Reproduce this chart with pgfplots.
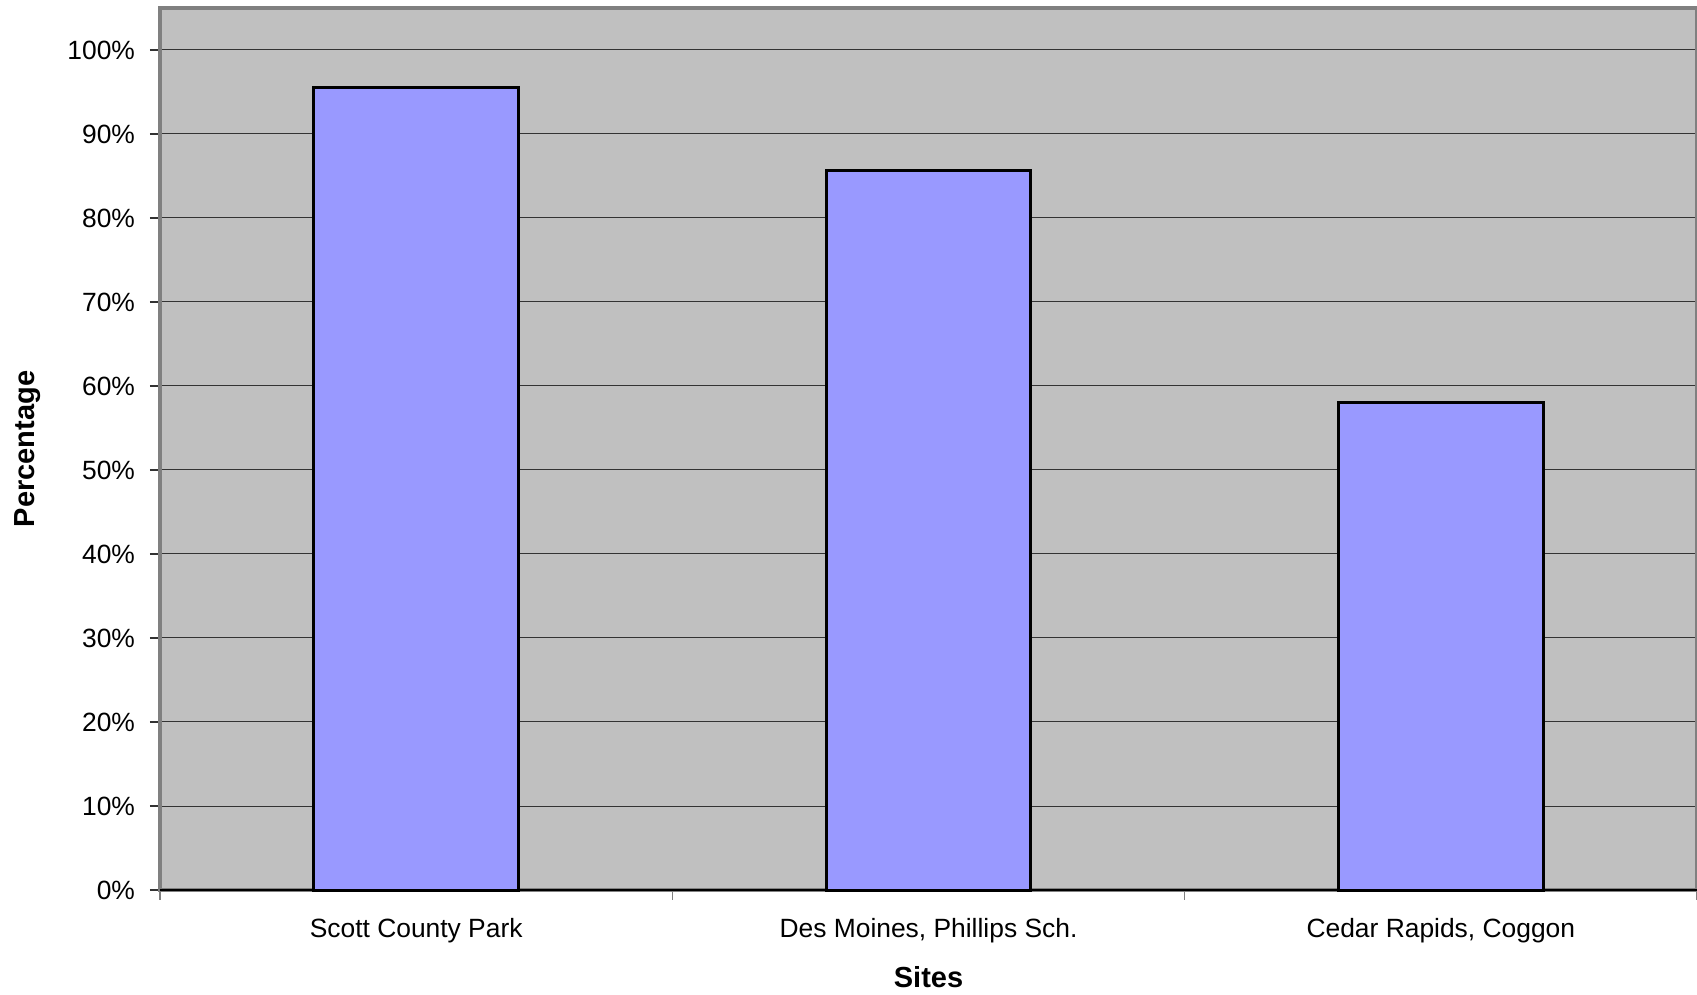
\documentclass[border=0pt]{standalone}
\usepackage{fontspec}
\setmainfont{Liberation Sans}
\usepackage{pgfplots}
\pgfplotsset{compat=1.18}
\definecolor{barfill}{RGB}{153,153,255}
\definecolor{plotbg}{RGB}{192,192,192}
\definecolor{framegray}{RGB}{128,128,128}
\begin{document}
\begin{tikzpicture}
\begin{axis}[
  at={(0,0)}, anchor=south west,
  scale only axis,
  width=768.5pt, height=441pt,
  xmin=-0.5, xmax=2.5,
  ymin=0, ymax=105,
  axis background/.style={fill=plotbg},
  axis line style={draw=framegray, line width=1.6pt},
  ybar, bar width=0.4,
  xtick={0,1,2},
  xticklabels={Scott County Park, {Des Moines, Phillips Sch.}, {Cedar Rapids, Coggon}},
  xtick style={draw=none},
  minor xtick={-0.5,0.5,1.5,2.5},
  minor x tick style={draw=framegray, line width=0.6pt},
  minor tick length=5pt,
  xtick pos=bottom, ytick pos=left,
  ytick={0,10,...,100},
  yticklabel={\pgfmathprintnumber{\tick}\%},
  /pgf/number format/assume math mode=true,
  y tick style={draw=black!80, line width=0.6pt},
  major tick length=5pt,
  tick align=outside,
  ymajorgrids,
  major grid style={draw=black!80, line width=0.5pt},
  tick label style={font=\fontsize{13.2}{15}\selectfont},
  y tick label style={anchor=east, xshift=-4pt},
  x tick label style={anchor=center, yshift=-15.5pt},
  xlabel={Sites},
  ylabel={Percentage},
  label style={font=\fontsize{14.5}{17}\selectfont\bfseries},
  xlabel style={at={(axis description cs:0.5,-0.0986)}, anchor=center},
  ylabel style={at={(axis description cs:-0.0859,0.5)}, anchor=center},
  clip=false,
]
\addplot[draw=black, line width=1.5pt, fill=barfill] coordinates {(0,95.5) (1,85.6) (2,58.0)};
\draw[black, line width=0.7pt] (rel axis cs:0,0) -- (rel axis cs:1,0);
\end{axis}
\pgfresetboundingbox
\useasboundingbox (-80pt,-52.5pt) rectangle (768.5pt,445pt);
\end{tikzpicture}
\end{document}
